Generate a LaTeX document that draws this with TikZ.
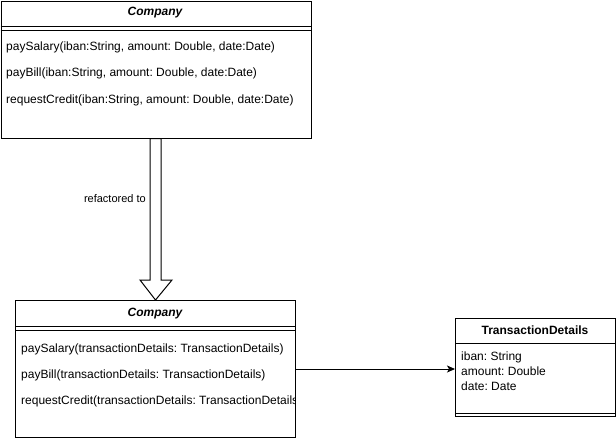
\documentclass[tikz,border=0pt]{standalone}
\usepackage{fontspec}
\setmainfont{Liberation Sans}
\usetikzlibrary{arrows.meta}

\tikzset{
	classbox/.style={draw, line width=1pt, fill=white, anchor=north west, inner sep=0pt},
	head/.style={font=\fontsize{12}{14}\selectfont\bfseries},
	member/.style={anchor=west, inner sep=0pt, font=\fontsize{12}{14}\selectfont},
	sep/.style={line width=1pt},
}

\begin{document}
\frenchspacing
\begin{tikzpicture}[x=1pt, y=-1pt]
					\useasboundingbox (0,0) rectangle (616,440);
					
					\node[classbox, minimum width=310pt, minimum height=137pt] (company) at (0.5,0.5) {};
					\node[head, font=\fontsize{12}{14}\selectfont\bfseries\itshape] (companyname) at (155,13) {Company};
					\draw[sep] ([yshift=-26pt]company.north west) -- ([yshift=-26pt]company.north east);
					\draw[sep] ([yshift=-30pt]company.north west) -- ([yshift=-30pt]company.north east);
					\node[member] (salary) at (6,47) {paySalary(iban:String, amount: Double, date:Date)};
					\node[member] (bill) at (6,73) {payBill(iban:String, amount: Double, date:Date)};
					\node[member] (credit) at (6,100) {requestCredit(iban:String, amount: Double, date:Date)};
					
					\node[classbox, minimum width=280pt, minimum height=137pt] (companynew) at (15,300) {};
					\node[head, font=\fontsize{12}{14}\selectfont\bfseries\itshape] (companynewname) at (155,314) {Company};
					\draw[sep] ([yshift=-26pt]companynew.north west) -- ([yshift=-26pt]companynew.north east);
					\draw[sep] ([yshift=-30pt]companynew.north west) -- ([yshift=-30pt]companynew.north east);
					\begin{scope}
						\clip (companynew.north west) rectangle ([xshift=-2pt]companynew.south east);
						\node[member] (salarynew) at (21,349) {paySalary(transactionDetails: TransactionDetails)};
						\node[member] (billnew) at (21,375) {payBill(transactionDetails: TransactionDetails)};
						\node[member] (creditnew) at (21,401) {requestCredit(transactionDetails: TransactionDetails)};
					\end{scope}
					
					\node[classbox, minimum width=160pt, minimum height=98pt] (details) at (455,318) {};
					\node[head] (detailsname) at (535,330) {TransactionDetails};
					\draw[sep] ([yshift=-25pt]details.north west) -- ([yshift=-25pt]details.north east);
					\draw[sep] ([yshift=4pt]details.south west) -- ([yshift=4pt]details.south east);
					\node[member] (iban) at (461,357) {iban: String};
					\node[member] (amount) at (461,371) {amount: Double};
					\node[member] (date) at (461,386) {date: Date};
					
					% block arrow
					\draw[line width=1pt, fill=white] ([xshift=-6pt]company.south) -- ([xshift=-6pt]company.south |- 0,280)
						-- ([xshift=-16pt]company.south |- 0,280) -- (companynew.north)
						-- ([xshift=16pt]company.south |- 0,280) -- ([xshift=5pt]company.south |- 0,280)
						-- ([xshift=5pt]company.south) -- cycle;
					\node[member, font=\fontsize{11}{13}\selectfont, anchor=east] (refactored) at (146,199) {refactored to};
					
					\draw[line width=1pt, -{Stealth[length=8pt, width=7pt, inset=2pt]}] (companynew.east) -- (companynew.east -| details.west);
					
				\end{tikzpicture}
\end{document}
